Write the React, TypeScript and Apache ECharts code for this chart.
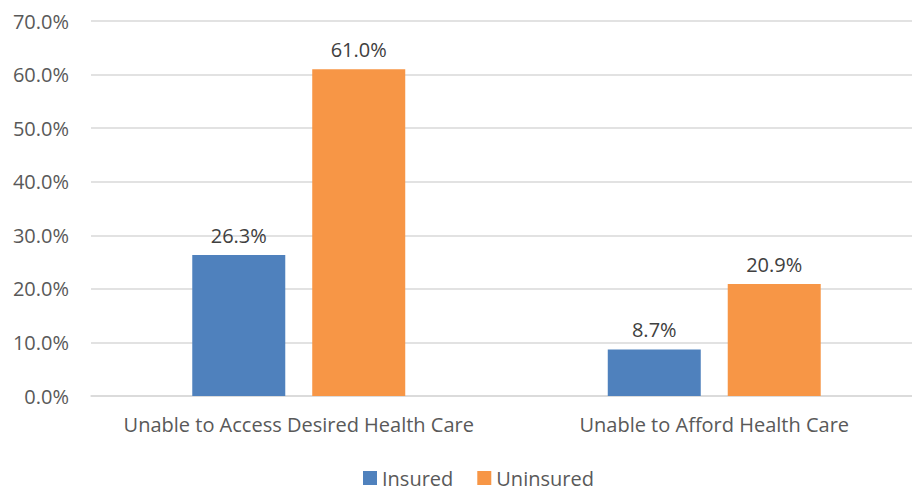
import React, { useEffect, useRef } from "react";
import * as echarts from "echarts";

const categories = ["Unable to Access Desired Health Care", "Unable to Afford Health Care"];
const insured = [26.3, 8.7];
const uninsured = [61.0, 20.9];
const seriesNames = ["Insured", "Uninsured"];

const FONT = "Open Sans";
const TXT = "#595959";
const FS = 20;

export default function App() {
  const ref = useRef<HTMLDivElement>(null);
  useEffect(() => {
    const chart = echarts.init(ref.current!, null, { renderer: "svg" });
    const label = {
      show: true,
      position: "top" as const,
      distance: 10,
      color: "#404040",
      fontSize: FS,
      fontFamily: FONT,
      formatter: (p: any) => p.value.toFixed(1) + "%",
    };
    chart.setOption({
      animation: false,
      grid: { left: 91, right: 2, top: 21, bottom: 95 },
      legend: {
        top: 463,
        left: 358,
        itemWidth: 14,
        itemHeight: 14,
        itemGap: 24,
        icon: "rect",
        textStyle: { color: TXT, fontSize: FS, fontFamily: FONT },
        data: seriesNames,
      },
      xAxis: {
        type: "category",
        data: categories,
        axisTick: { show: false },
        axisLine: { lineStyle: { color: "#D9D9D9", width: 1.5 } },
        axisLabel: { color: TXT, fontSize: FS, fontFamily: FONT, margin: 18, interval: 0 },
      },
      yAxis: {
        type: "value",
        min: 0,
        max: 70,
        interval: 10,
        axisLabel: {
          color: TXT,
          fontSize: FS,
          fontFamily: FONT,
          margin: 22,
          formatter: (v: number) => v.toFixed(1) + "%",
        },
        splitLine: { lineStyle: { color: "#D9D9D9", width: 1.5 } },
        axisLine: { show: false },
        axisTick: { show: false },
      },
      series: [
        {
          name: seriesNames[0],
          type: "bar",
          data: insured,
          barWidth: 93,
          barGap: "29%",
          itemStyle: { color: "#4F81BD" },
          label,
        },
        {
          name: seriesNames[1],
          type: "bar",
          data: uninsured,
          barWidth: 93,
          itemStyle: { color: "#F79646" },
          label,
        },
      ],
    });
    return () => chart.dispose();
  }, []);
  return (
    <div style={{ position: "absolute", left: 0, top: 0, width: 912, height: 491, overflow: "hidden" }}>
      <div ref={ref} style={{ width: 924, height: 491 }} />
    </div>
  );
}
